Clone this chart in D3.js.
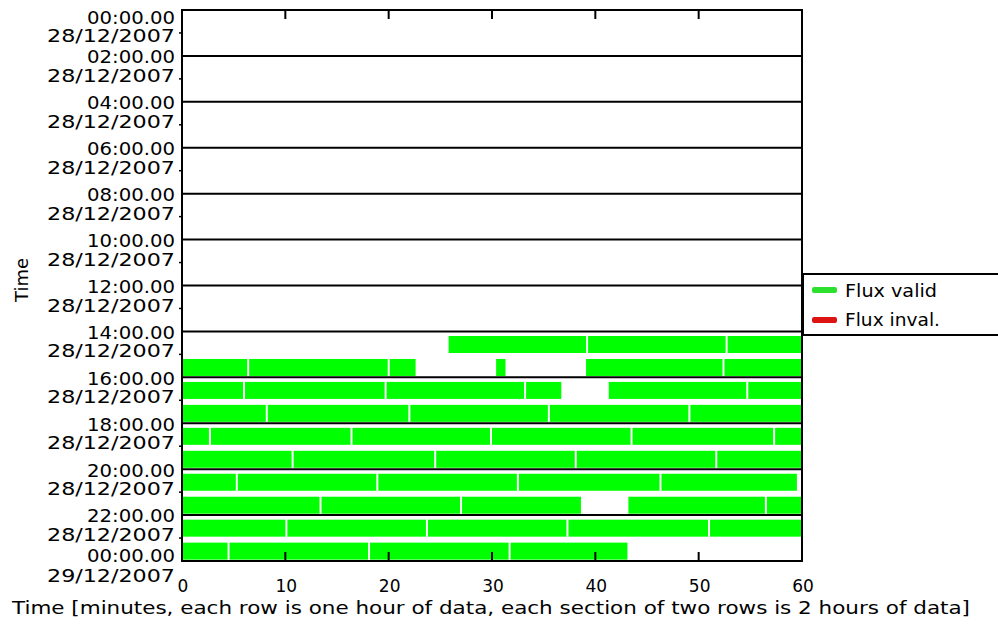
<!DOCTYPE html>
<html>
<head>
<meta charset="utf-8">
<script src="https://cdn.jsdelivr.net/npm/d3@7"></script>
<style>
  html, body { margin: 0; padding: 0; background: #fff; }
  svg { display: block; }
  text { font-family: "DejaVu Sans", sans-serif; fill: #000; }
</style>
</head>
<body>
<svg id="chart" width="998" height="628"></svg>
<script>
// ---- data ----
const timeLabels = ["00:00.00","02:00.00","04:00.00","06:00.00","08:00.00","10:00.00","12:00.00",
                    "14:00.00","16:00.00","18:00.00","20:00.00","22:00.00","00:00.00"];
const dateLabels = ["28/12/2007","28/12/2007","28/12/2007","28/12/2007","28/12/2007","28/12/2007","28/12/2007",
                    "28/12/2007","28/12/2007","28/12/2007","28/12/2007","28/12/2007","29/12/2007"];
const xTicks = [0, 10, 20, 30, 40, 50, 60];
// valid flux segments: [hour row, start minute, end minute]
const validSegments = [
  [14, 25.8, 39.3], [14, 39.3, 52.8], [14, 52.8, 60],
  [15, 0, 6.5], [15, 6.5, 20.1], [15, 20.1, 22.8], [15, 30.4, 31.5], [15, 39.1, 52.5], [15, 52.5, 60],
  [16, 0, 6.1], [16, 6.1, 19.8], [16, 19.8, 33.3], [16, 33.3, 36.9], [16, 41.3, 54.8], [16, 54.8, 60],
  [17, 0, 8.3], [17, 8.3, 22.1], [17, 22.1, 35.6], [17, 35.6, 49.2], [17, 49.2, 60],
  [18, 0, 2.8], [18, 2.8, 16.5], [18, 16.5, 30.0], [18, 30.0, 43.6], [18, 43.6, 57.4], [18, 57.4, 60],
  [19, 0, 10.8], [19, 10.8, 24.6], [19, 24.6, 38.2], [19, 38.2, 51.8], [19, 51.8, 60],
  [20, 0, 5.4], [20, 5.4, 19.0], [20, 19.0, 32.6], [20, 32.6, 46.4], [20, 46.4, 59.7],
  [21, 0, 13.5], [21, 13.5, 27.1], [21, 27.1, 38.8], [21, 43.2, 56.6], [21, 56.6, 60],
  [22, 0, 10.2], [22, 10.2, 23.8], [22, 23.8, 37.4], [22, 37.4, 51.1], [22, 51.1, 60],
  [23, 0, 4.6], [23, 4.6, 18.2], [23, 18.2, 31.8], [23, 31.8, 43.3]
];
const invalidSegments = [];
const legendItems = [["Flux valid", "#2ee02e"], ["Flux inval.", "#dd1414"]];

// ---- layout ----
const pLeft = 182, pRight = 802, pTop = 10, pBottom = 561;
const svg = d3.select("#chart");
const x = d3.scaleLinear().domain([0, 60]).range([pLeft, pRight]);
const y = d3.scaleLinear().domain([0, 24]).range([pTop, pBottom]);
const rowH = y(1) - y(0);

// bars
svg.append("g").selectAll("rect").data(validSegments).join("rect")
  .attr("x", d => x(d[1]))
  .attr("y", d => y(d[0]) + rowH * 0.2)
  .attr("width", d => x(d[2]) - x(d[1]) - (d[2] < 60 ? 2 : 0))
  .attr("height", rowH * 0.74)
  .attr("fill", "#00ff00");
svg.append("g").selectAll("rect").data(invalidSegments).join("rect")
  .attr("x", d => x(d[1]))
  .attr("y", d => y(d[0]) + rowH * 0.2)
  .attr("width", d => x(d[2]) - x(d[1]))
  .attr("height", rowH * 0.74)
  .attr("fill", "#dd1414");

// section lines every 2 hours
const sections = d3.range(0, 25, 2);
svg.append("g").selectAll("line").data(sections).join("line")
  .attr("x1", pLeft).attr("x2", pRight)
  .attr("y1", d => y(d)).attr("y2", d => y(d))
  .attr("stroke", "#000").attr("stroke-width", 2);
// border verticals
svg.append("line").attr("x1", pLeft).attr("x2", pLeft).attr("y1", pTop - 1).attr("y2", pBottom + 1)
  .attr("stroke", "#000").attr("stroke-width", 2);
svg.append("line").attr("x1", pRight).attr("x2", pRight).attr("y1", pTop - 1).attr("y2", pBottom + 1)
  .attr("stroke", "#000").attr("stroke-width", 2);

// minor ticks on left at odd hours
svg.append("g").selectAll("line").data(d3.range(1, 24, 2)).join("line")
  .attr("x1", pLeft - 3).attr("x2", pLeft)
  .attr("y1", d => y(d)).attr("y2", d => y(d))
  .attr("stroke", "#000").attr("stroke-width", 1.5);

// x ticks top and bottom
const inner = xTicks.filter(v => v > 0 && v < 60);
svg.append("g").selectAll("line").data(inner).join("line")
  .attr("x1", d => x(d)).attr("x2", d => x(d))
  .attr("y1", pTop).attr("y2", pTop + 9)
  .attr("stroke", "#000").attr("stroke-width", 2);
svg.append("g").selectAll("line").data(inner).join("line")
  .attr("x1", d => x(d)).attr("x2", d => x(d))
  .attr("y1", pBottom).attr("y2", pBottom - 9)
  .attr("stroke", "#000").attr("stroke-width", 2);

// x tick labels
svg.append("g").selectAll("text").data(xTicks).join("text")
  .attr("x", d => x(d) + 1)
  .attr("y", 592)
  .attr("text-anchor", "middle")
  .attr("font-size", 17)
  .text(d => d);

// y labels
const nLab = timeLabels.length;
function timeCenter(i) {
  if (i === 0) return y(0) + 7.5;
  if (i === nLab - 1) return y(24) - 5.5;
  if (i === nLab - 2) return y(i * 2) + 0.5;
  return y(i * 2) + 1.5;
}
function dateCenter(i) {
  if (i === 0) return y(0) + 26;
  if (i === nLab - 1) return y(24) + 14.5;
  return y(i * 2) + 20;
}
const yl = svg.append("g");
yl.selectAll("text.t").data(timeLabels).join("text")
  .attr("class", "t")
  .attr("x", 175).attr("y", (d, i) => timeCenter(i) + 6)
  .attr("text-anchor", "end").attr("font-size", 17)
  .attr("textLength", 88).attr("lengthAdjust", "spacingAndGlyphs")
  .text(d => d);
yl.selectAll("text.d").data(dateLabels).join("text")
  .attr("class", "d")
  .attr("x", 175).attr("y", (d, i) => dateCenter(i) + 6)
  .attr("text-anchor", "end").attr("font-size", 17)
  .attr("textLength", 128).attr("lengthAdjust", "spacingAndGlyphs")
  .text(d => d);

// axis titles
svg.append("text")
  .attr("transform", "translate(28,280) rotate(-90)")
  .attr("text-anchor", "middle").attr("font-size", 18)
  .text("Time");
svg.append("text")
  .attr("x", 12).attr("y", 614)
  .attr("font-size", 18)
  .attr("textLength", 958).attr("lengthAdjust", "spacingAndGlyphs")
  .text("Time [minutes, each row is one hour of data, each section of two rows is 2 hours of data]");

// legend
const lg = svg.append("g");
lg.append("rect").attr("x", 803).attr("y", 274).attr("width", 205).attr("height", 61)
  .attr("fill", "#fff").attr("stroke", "#000").attr("stroke-width", 2);
lg.selectAll("rect.sw").data(legendItems).join("rect")
  .attr("class", "sw")
  .attr("x", 812).attr("y", (d, i) => 287 + i * 30)
  .attr("width", 25).attr("height", 6).attr("rx", 2)
  .attr("fill", d => d[1]);
lg.selectAll("text").data(legendItems).join("text")
  .attr("x", 845).attr("y", (d, i) => 297 + i * 29)
  .attr("font-size", 17)
  .attr("textLength", (d, i) => i === 0 ? 92 : 95).attr("lengthAdjust", "spacingAndGlyphs")
  .text(d => d[0]);
</script>
</body>
</html>
